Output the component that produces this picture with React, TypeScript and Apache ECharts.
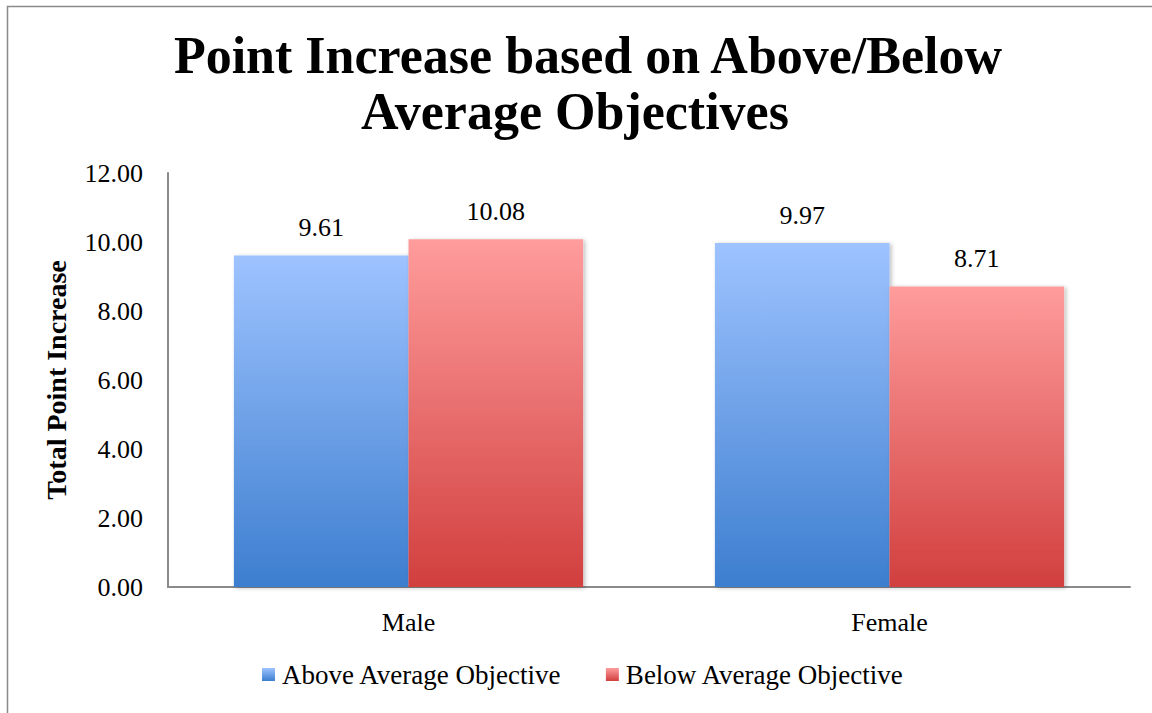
import React, { useEffect, useRef } from "react";
import * as echarts from "echarts";

const categories = ["Male", "Female"];
const seriesNames = ["Above Average Objective", "Below Average Objective"];
const aboveValues = [9.61, 9.97];
const belowValues = [10.08, 8.71];
const yTicks = { min: 0, max: 12, interval: 2 };
const titleLines = ["Point Increase based on Above/Below", "Average Objectives"];

const SERIF = "'Liberation Serif', 'Times New Roman', serif";

const blueFill = new echarts.graphic.LinearGradient(0, 0, 0, 1, [
  { offset: 0, color: "#9EC3FF" },
  { offset: 1, color: "#3D7ECF" },
]);
const redFill = new echarts.graphic.LinearGradient(0, 0, 0, 1, [
  { offset: 0, color: "#FF9C9C" },
  { offset: 1, color: "#D13F3E" },
]);

const barShadow = {
  shadowBlur: 4,
  shadowOffsetX: 2,
  shadowOffsetY: 1,
  shadowColor: "rgba(0,0,0,0.25)",
};

const valueLabel = {
  show: true,
  position: "top",
  distance: 15,
  fontFamily: SERIF,
  fontSize: 26,
  color: "#000",
  formatter: (p: any) => p.value.toFixed(2),
};

const titleStyle = {
  fontFamily: SERIF,
  fontWeight: "bold",
  fontSize: 52,
  lineHeight: 56,
  color: "#000",
};

export default function App() {
  const ref = useRef<HTMLDivElement>(null);

  useEffect(() => {
    if (!ref.current) return;
    const chart = echarts.init(ref.current, null, { renderer: "svg" });
    chart.setOption({
      animation: false,
      backgroundColor: "#ffffff",
      title: [
        { text: titleLines[0], left: 583, textAlign: "center", top: 22, textStyle: titleStyle },
        { text: titleLines[1], left: 570, textAlign: "center", top: 78, textStyle: titleStyle },
      ],
      graphic: [
        {
          type: "rect",
          shape: { x: 7.5, y: 6.5, width: 1300, height: 900 },
          style: { fill: "none", stroke: "#8a8a8a", lineWidth: 1.5 },
          silent: true,
        },
      ],
      legend: {
        bottom: 20,
        left: 257,
        itemWidth: 13,
        itemHeight: 13,
        itemGap: 44,
        icon: "rect",
        textStyle: { fontFamily: SERIF, fontSize: 27, color: "#000", padding: [0, 0, 0, 2] },
        data: seriesNames,
      },
      grid: { left: 168, right: 22, top: 173, bottom: 126, containLabel: false },
      xAxis: {
        type: "category",
        data: categories,
        axisLine: { lineStyle: { color: "#8a8a8a", width: 2 } },
        axisTick: { show: false },
        axisLabel: { fontFamily: SERIF, fontSize: 26, color: "#000", margin: 22 },
      },
      yAxis: {
        type: "value",
        min: yTicks.min,
        max: yTicks.max,
        interval: yTicks.interval,
        name: "Total Point Increase",
        nameLocation: "middle",
        nameGap: 98,
        nameTextStyle: { fontFamily: SERIF, fontWeight: "bold", fontSize: 28, color: "#000" },
        axisLine: { show: true, lineStyle: { color: "#8a8a8a", width: 2 } },
        axisTick: { show: false },
        splitLine: { show: false },
        axisLabel: {
          fontFamily: SERIF,
          fontSize: 26,
          color: "#000",
          margin: 25,
          formatter: (v: number) => v.toFixed(2),
        },
      },
      series: [
        {
          name: seriesNames[0],
          type: "bar",
          data: aboveValues,
          barGap: "0%",
          barCategoryGap: "27.4%",
          itemStyle: { color: blueFill, ...barShadow },
          label: valueLabel,
        },
        {
          name: seriesNames[1],
          type: "bar",
          data: belowValues,
          barGap: "0%",
          barCategoryGap: "27.4%",
          itemStyle: { color: redFill, ...barShadow },
          label: valueLabel,
        },
      ],
    });
    return () => chart.dispose();
  }, []);

  return (
    <div
      ref={ref}
      style={{ position: "fixed", left: 0, top: 0, width: 1152, height: 713 }}
    />
  );
}
